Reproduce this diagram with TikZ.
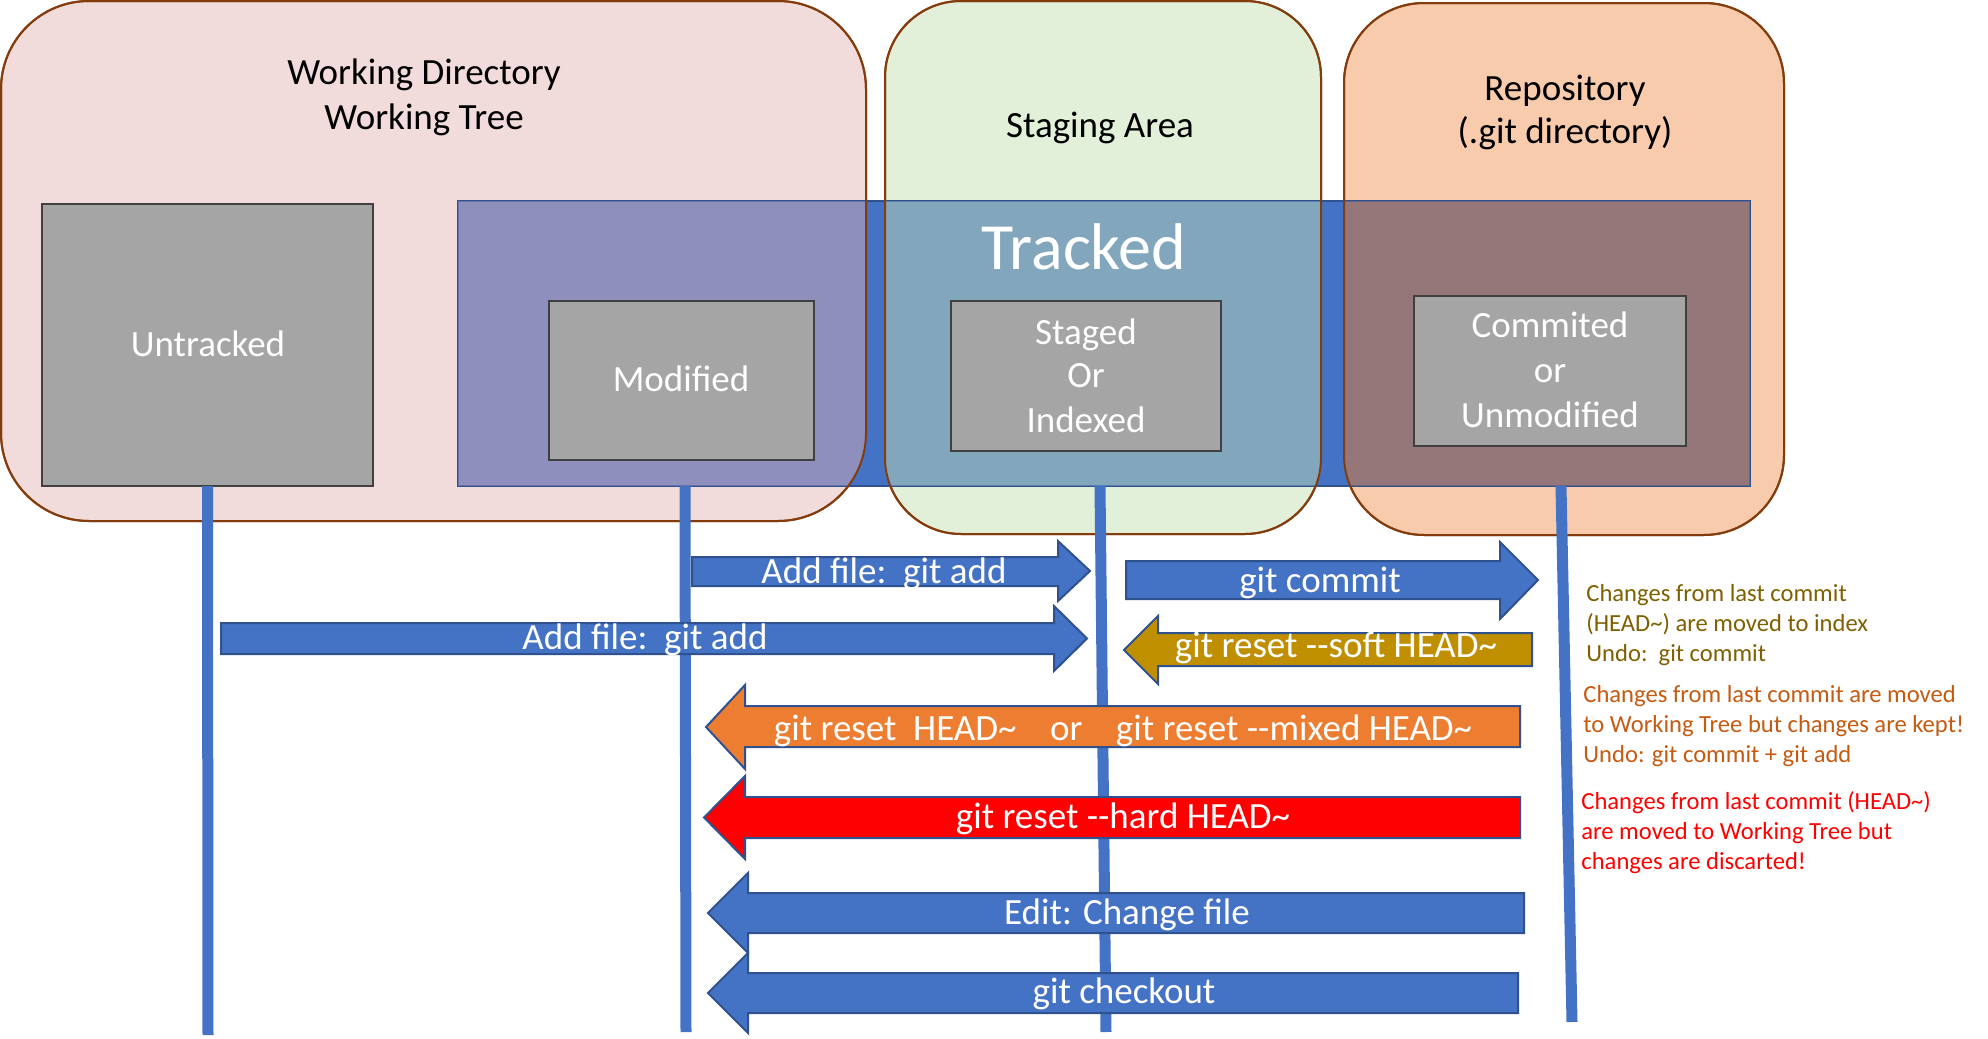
\documentclass[tikz,border=0pt]{standalone}
\usepackage{fontspec}
\setmainfont{Carlito}
\usetikzlibrary{fit}
\definecolor{wdfill}{HTML}{F2DCDB}
\definecolor{stfill}{HTML}{E2F0D9}
\definecolor{rpfill}{HTML}{F8CBAD}
\definecolor{brownb}{HTML}{843C0C}
\definecolor{wdover}{HTML}{8E8FBD}
\definecolor{stover}{HTML}{82A7BD}
\definecolor{rpover}{HTML}{967779}
\definecolor{accblue}{HTML}{4472C4}
\definecolor{navyb}{HTML}{2F528F}
\definecolor{grayfill}{HTML}{A5A5A5}
\definecolor{grayb}{HTML}{404040}
\definecolor{goldf}{HTML}{BF8F00}
\definecolor{orngf}{HTML}{ED7D31}
\definecolor{olivet}{HTML}{7F6000}
\definecolor{rustt}{HTML}{C55A11}
\newcommand{\gitdd}{-\kern0pt-}
\newcommand{\tl}{\textasciitilde}
\begin{document}
\begin{tikzpicture}[x=0.5pt,y=-0.5pt,
  areabox/.style={inner sep=0pt, outer sep=0pt, draw=brownb, line width=1pt},
  graybox/.style={inner sep=0pt, outer sep=0pt, fill=grayfill, draw=grayb, line width=1.25pt},
  titletxt/.style={font=\fontsize{18.5}{22}\selectfont, anchor=base, inner sep=0pt, text=black},
  boxtxt/.style={font=\fontsize{18.5}{22}\selectfont, anchor=base, inner sep=0pt, text=white},
  arrtxt/.style={font=\fontsize{18.5}{22}\selectfont, anchor=base, inner sep=0pt, text=white},
  notetxt/.style={font=\fontsize{12.3}{15}\selectfont, anchor=base west, inner sep=0pt},
  life/.style={draw=accblue, line width=5.5pt},
  blk/.style={draw=navyb, line width=1pt, line join=miter}
]
\useasboundingbox (0,0) rectangle (1988,1039);

% areas
\node[areabox, fill=wdfill, rounded corners=44pt, fit={(1,1) (866,521)}] (wd) {};
\node[areabox, fill=stfill, rounded corners=38pt, fit={(885,1) (1321,534)}] (st) {};
\node[areabox, fill=rpfill, rounded corners=40pt, fit={(1344,3) (1784,535)}] (rp) {};

% tracked band
\node[inner sep=0pt, outer sep=0pt, fill=accblue, draw=navyb, line width=1pt, fit={(458,201) (1750,486)}] (band) {};
\begin{scope}
\clip[rounded corners=44pt] (wd.north west) rectangle (wd.south east);
\fill[wdover] (band.north west) rectangle (band.south east);
\end{scope}
\begin{scope}
\clip[rounded corners=38pt] (st.north west) rectangle (st.south east);
\fill[stover] (band.north west) rectangle (band.south east);
\end{scope}
\begin{scope}
\clip[rounded corners=40pt] (rp.north west) rectangle (rp.south east);
\fill[rpover] (band.north west) rectangle (band.south east);
\end{scope}
\draw[navyb, line width=1pt, draw opacity=0.45] (band.north west) rectangle (band.south east);
\draw[brownb, line width=1pt, rounded corners=44pt] (wd.north west) rectangle (wd.south east);
\draw[brownb, line width=1pt, rounded corners=38pt] (st.north west) rectangle (st.south east);
\draw[brownb, line width=1pt, rounded corners=40pt] (rp.north west) rectangle (rp.south east);

% titles
\node[titletxt] (wdt1) at (424,84) {Working Directory};
\node[titletxt] (wdt2) at (424,129) {Working Tree};
\node[titletxt] (stt) at (1100,137) {Staging Area};
\node[titletxt] (rpt1) at (1565,100) {Repository};
\node[titletxt] (rpt2) at (1565,143) {(.git directory)};

% gray boxes
\node[graybox, fit={(42,204) (373,486)}] (untr) {};
\node[graybox, fit={(549,301) (814,460)}] (modi) {};
\node[graybox, fit={(951,301) (1221,451)}] (stag) {};
\node[graybox, fit={(1414,296) (1686,446)}] (comm) {};

\node[boxtxt, font=\fontsize{33}{38}\selectfont] (trk) at (1084,269) {Tracked};
\node[boxtxt] (untrt) at (208,356) {Untracked};
\node[boxtxt] (modit) at (681,391) {Modified};
\node[boxtxt] (stag1) at (1086,344) {Staged};
\node[boxtxt] (stag2) at (1086,387) {Or};
\node[boxtxt] (stag3) at (1086,432) {Indexed};
\node[boxtxt] (comm1) at (1550,337) {Commited};
\node[boxtxt] (comm2) at (1550,382) {or};
\node[boxtxt] (comm3) at (1550,427) {Unmodified};

% lifelines
\coordinate (l1b) at (208,1035);
\coordinate (l2a) at (685,486);
\coordinate (l2b) at (686,1032);
\coordinate (l3a) at (1100,486);
\coordinate (l3b) at (1106,1032);
\coordinate (l4a) at (1561,486);
\coordinate (l4b) at (1572,1022);
\draw[life] (untr.south) -- (l1b);
\draw[life] (l2a) -- (l2b);
\draw[life] (l3a) -- (l3b);
\draw[life] (l4a) -- (l4b);

% block arrows
\draw[blk, fill=accblue] (692,557) -- (1058,557) -- (1058,541) -- (1090,571) -- (1058,601) -- (1058,586) -- (692,586) -- cycle;
\draw[blk, fill=accblue] (221,623) -- (1054,623) -- (1054,606) -- (1087,638.5) -- (1054,671) -- (1054,654) -- (221,654) -- cycle;
\draw[blk, fill=accblue] (1126,561) -- (1500,561) -- (1500,542) -- (1538,580) -- (1500,619) -- (1500,599) -- (1126,599) -- cycle;
\draw[blk, fill=goldf] (1532,633) -- (1158,633) -- (1158,616) -- (1124,650) -- (1158,684) -- (1158,666) -- (1532,666) -- cycle;
\draw[blk, fill=orngf] (1520,706) -- (745,706) -- (745,685) -- (706,727) -- (745,769) -- (745,747) -- (1520,747) -- cycle;
\draw[blk, fill=red] (1520,797) -- (745,797) -- (745,776) -- (704,817.5) -- (745,859) -- (745,838) -- (1520,838) -- cycle;
\draw[blk, fill=accblue] (1524,893) -- (748,893) -- (748,873) -- (708,913) -- (748,953) -- (748,933) -- (1524,933) -- cycle;
\draw[blk, fill=accblue] (1518,973) -- (748,973) -- (748,953) -- (708,993) -- (748,1033) -- (748,1013) -- (1518,1013) -- cycle;

\node[arrtxt] (a1) at (884,583) {Add file:\ \ git add};
\node[arrtxt] (a2) at (645,649) {Add file:\ \ git add};
\node[arrtxt] (a3) at (1320,592) {git commit};
\node[arrtxt] (a4) at (1336,657) {git reset \gitdd soft HEAD\tl};
\node[arrtxt] (a5) at (1123,740) {git reset\ \ HEAD\tl\ \ \ \ or\ \ \ \ git reset \gitdd mixed HEAD\tl};
\node[arrtxt] (a6) at (1123,828) {git reset \gitdd hard HEAD\tl};
\node[arrtxt] (a7) at (1127,924) {Edit: Change file};
\node[arrtxt] (a8) at (1124,1003) {git checkout};

% notes
\node[notetxt, text=olivet] (n1) at (1586,601) {Changes from last commit};
\node[notetxt, text=olivet] (n2) at (1586,631) {(HEAD\tl) are moved to index};
\node[notetxt, text=olivet] (n3) at (1586,661) {Undo:\ \ git commit};
\node[notetxt, text=rustt] (n4) at (1583,702) {Changes from last commit are moved};
\node[notetxt, text=rustt] (n5) at (1583,732) {to Working Tree but changes are kept!};
\node[notetxt, text=rustt] (n6) at (1583,762) {Undo: git commit + git add};
\node[notetxt, text=red] (n7) at (1581,809) {Changes from last commit (HEAD\tl)};
\node[notetxt, text=red] (n8) at (1581,839) {are moved to Working Tree but};
\node[notetxt, text=red] (n9) at (1581,869) {changes are discarted!};
\end{tikzpicture}
\end{document}
